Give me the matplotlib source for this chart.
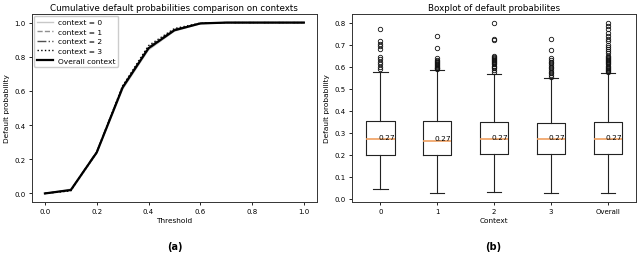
import matplotlib
matplotlib.use("Agg")
import matplotlib.pyplot as plt

# ---------------- data ----------------
thresholds = [0.0, 0.1, 0.2, 0.3, 0.4, 0.5, 0.6, 0.7, 0.8, 0.9, 1.0]
cum_context0 = [0.0, 0.025, 0.235, 0.61, 0.84, 0.95, 0.993, 1.0, 1.0, 1.0, 1.0]
cum_context1 = [0.0, 0.02, 0.24, 0.62, 0.845, 0.955, 0.995, 1.0, 1.0, 1.0, 1.0]
cum_context2 = [0.0, 0.02, 0.245, 0.625, 0.855, 0.96, 0.995, 1.0, 1.0, 1.0, 1.0]
cum_context3 = [0.0, 0.015, 0.24, 0.63, 0.865, 0.965, 0.997, 1.0, 1.0, 1.0, 1.0]
cum_overall = [0.0, 0.02, 0.24, 0.62, 0.85, 0.955, 0.995, 1.0, 1.0, 1.0, 1.0]

box_labels = ["0", "1", "2", "3", "Overall"]
box_whislo = [0.045, 0.025, 0.03, 0.025, 0.025]
box_q1 = [0.20, 0.20, 0.205, 0.205, 0.205]
box_med = [0.27, 0.265, 0.27, 0.27, 0.27]
box_q3 = [0.355, 0.355, 0.35, 0.345, 0.35]
box_whishi = [0.575, 0.585, 0.568, 0.548, 0.57]
box_fliers = [
    [0.588, 0.599, 0.611, 0.621, 0.633, 0.644, 0.682, 0.694, 0.704, 0.716, 0.771],
    [0.588, 0.592, 0.596, 0.600, 0.604, 0.608, 0.612, 0.616, 0.620, 0.625, 0.630, 0.638, 0.686, 0.739],
    [0.575, 0.585, 0.595, 0.600, 0.605, 0.610, 0.615, 0.620, 0.625, 0.630, 0.635, 0.640, 0.645, 0.648, 0.720, 0.724, 0.80],
    [0.555, 0.562, 0.570, 0.578, 0.585, 0.592, 0.600, 0.608, 0.615, 0.622, 0.630, 0.640, 0.675, 0.725],
    [0.575, 0.580, 0.585, 0.590, 0.595, 0.600, 0.605, 0.610, 0.615, 0.620, 0.625, 0.630, 0.635, 0.640, 0.645,
     0.650, 0.660, 0.670, 0.680, 0.690, 0.700, 0.715, 0.725, 0.740, 0.755, 0.770, 0.785, 0.80],
]

# ---------------- figure ----------------
plt.rcParams["font.family"] = ["DejaVu Sans"]
fig = plt.figure(figsize=(6.4, 2.55), dpi=100)
ax1 = fig.add_axes([0.05, 0.204, 0.445, 0.737])
ax2 = fig.add_axes([0.55, 0.204, 0.444, 0.737])

TICK = 5
LAB = 5.3
TIT = 6.3

ax1.plot(thresholds, cum_context0, color="#c8c8c8", lw=1.0, ls="-", label="context = 0")
ax1.plot(thresholds, cum_context1, color="#909090", lw=1.0, ls="--", label="context = 1")
ax1.plot(thresholds, cum_context2, color="#505050", lw=1.0, ls="-.", label="context = 2")
ax1.plot(thresholds, cum_context3, color="#000000", lw=1.0, ls=":", label="context = 3")
ax1.plot(thresholds, cum_overall, color="#000000", lw=1.6, ls="-", label="Overall context")
ax1.set_xticks([0.0, 0.2, 0.4, 0.6, 0.8, 1.0])
ax1.set_yticks([0.0, 0.2, 0.4, 0.6, 0.8, 1.0])
ax1.set_xlabel("Threshold", fontsize=LAB, labelpad=2)
ax1.set_ylabel("Default probability", fontsize=LAB, labelpad=3)
ax1.set_title("Cumulative default probabilities comparison on contexts", fontsize=TIT, pad=3)
ax1.tick_params(labelsize=TICK, length=2.5, width=0.6, pad=2)
leg = ax1.legend(loc="upper left", fontsize=5.4, handlelength=2.1, borderpad=0.4,
                 labelspacing=0.45, handletextpad=0.7, borderaxespad=0.25,
                 framealpha=1, edgecolor="#cccccc", fancybox=True)

stats = []
for i in range(len(box_labels)):
    stats.append(dict(label=box_labels[i], whislo=box_whislo[i], q1=box_q1[i], med=box_med[i],
                      q3=box_q3[i], whishi=box_whishi[i], fliers=box_fliers[i]))
ax2.bxp(stats, widths=0.5,
        boxprops=dict(color="#222222", lw=0.8),
        whiskerprops=dict(color="#222222", lw=0.8),
        capprops=dict(color="#222222", lw=0.8),
        medianprops=dict(color="#f0a060", lw=1.2),
        flierprops=dict(marker="o", markersize=3.2, markerfacecolor="none",
                        markeredgecolor="#111111", markeredgewidth=0.6))
for i, m in enumerate(box_med):
    ax2.text(i + 1 - 0.04, m + 0.012, f"{m:.2f}", fontsize=5.3, ha="left", va="center")
ax2.set_yticks([0.0, 0.1, 0.2, 0.3, 0.4, 0.5, 0.6, 0.7, 0.8])
ax2.set_xlabel("Context", fontsize=LAB, labelpad=2)
ax2.set_ylabel("Default probability", fontsize=LAB, labelpad=3)
ax2.set_title("Boxplot of default probabilites", fontsize=TIT, pad=3)
ax2.tick_params(labelsize=TICK, length=2.5, width=0.6, pad=2)

for ax in (ax1, ax2):
    for s in ax.spines.values():
        s.set_linewidth(0.7)
        s.set_color("#333333")

fig.text(0.273, 0.03, "(a)", fontsize=7, fontweight="bold", ha="center", va="center")
fig.text(0.77, 0.03, "(b)", fontsize=7, fontweight="bold", ha="center", va="center")

fig.savefig("out.png", dpi=100)
